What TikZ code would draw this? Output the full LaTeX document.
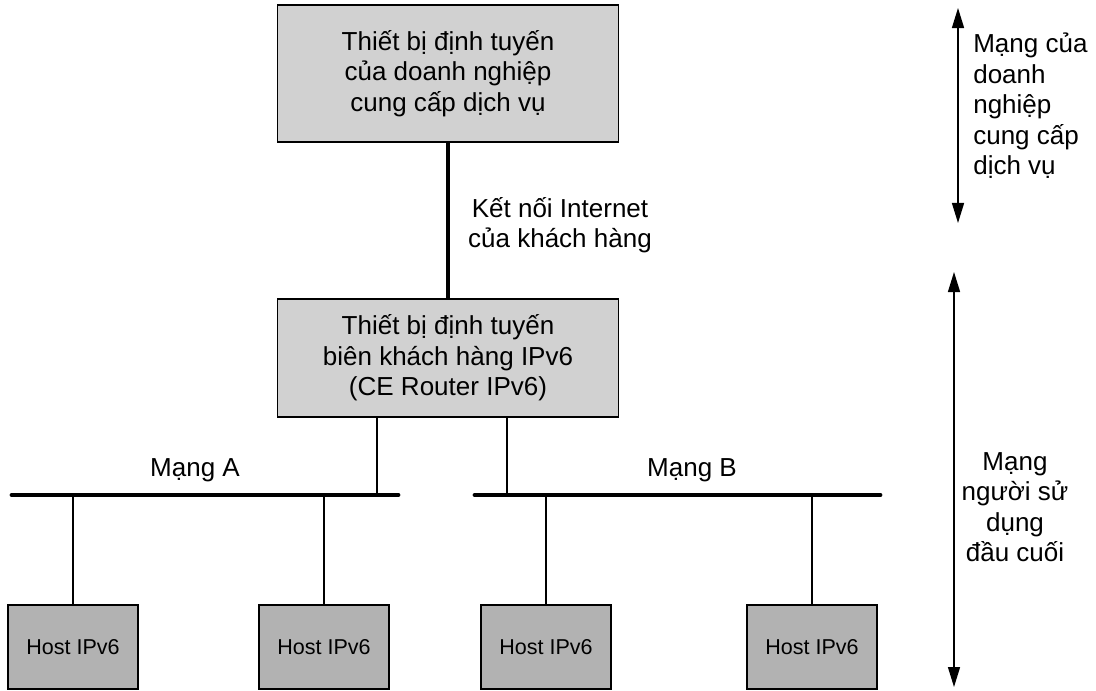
\documentclass[tikz,border=0pt]{standalone}
\usepackage{fontspec}
\setmainfont{Liberation Sans}
\usetikzlibrary{arrows.meta}

\begin{document}
\begin{tikzpicture}[x=0.025cm,y=-0.025cm,
                   router/.style={draw,line width=1.1pt,fill=black!18,minimum width=8.525cm,align=center,font=\fontsize{18.5}{21.7}\selectfont},
                   host/.style={draw,line width=1.1pt,fill=black!30,minimum width=3.25cm,minimum height=2.1cm,font=\fontsize{15.3}{18}\selectfont},
                   txt/.style={inner sep=0pt,font=\fontsize{18.5}{21.7}\selectfont},
                   bus/.style={line width=3.5pt,line cap=round},
                   link/.style={line width=0.9pt},
                   extent/.style={line width=1pt,{Triangle[length=0.5cm,width=0.3cm]}-{Triangle[length=0.5cm,width=0.3cm]}}]
\useasboundingbox (0,0) rectangle (1096,690);
\node[router,minimum height=3.425cm] (isp) at (448,73.5) {Thiết bị định tuyến\\của doanh nghiệp\\cung cấp dịch vụ};
\node[router,minimum height=2.95cm] (ce) at (448,358) {Thiết bị định tuyến\\biên khách hàng IPv6\\(CE Router IPv6)};
\draw[line width=2.8pt] (isp) -- (ce);
\node[txt,align=center] (wan) at (560,225) {Kết nối Internet\\của khách hàng};
% hai mang LAN
\coordinate (a1) at (12,495); \coordinate (a2) at (398,495);
\coordinate (b1) at (475,495); \coordinate (b2) at (880,495);
\draw[bus] (a1) -- (a2);
\draw[bus] (b1) -- (b2);
\node[txt] (netA) at (195,470) {Mạng A};
\node[txt] (netB) at (692,470) {Mạng B};
\coordinate (ceA) at (377,495); \coordinate (ceB) at (507,495);
\draw[link] (ce.south -| ceA) -- (ceA);
\draw[link] (ce.south -| ceB) -- (ceB);
% host
\foreach \x/\n in {73/1,324/2,546/3,812/4}
  \node[host] (h\n) at (\x,647) {Host IPv6};
\draw[link] (h1) -- (h1 |- a1);
\draw[link] (h2) -- (h2 |- a1);
\draw[link] (h3) -- (h3 |- b1);
\draw[link] (h4) -- (h4 |- b1);
% pham vi
\coordinate (t1) at (958,8); \coordinate (t2) at (958,223);
\coordinate (u1) at (954,272); \coordinate (u2) at (954,687);
\draw[extent] (t1) -- (t2);
\draw[extent] (u1) -- (u2);
\node[txt,align=left,anchor=west] (ispnet) at (973,106) {Mạng của\\doanh\\nghiệp\\cung cấp\\dịch vụ};
\node[txt,align=center] (usernet) at (1015,507) {Mạng\\người sử\\dụng\\đầu cuối};
\end{tikzpicture}
\end{document}
